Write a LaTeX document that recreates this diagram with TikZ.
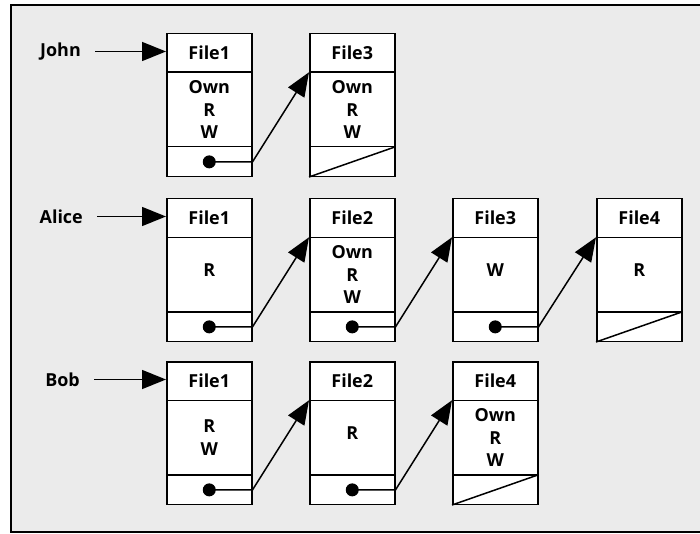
\documentclass[tikz,border=0pt]{standalone}
\usepackage{fontspec}
\setmainfont{Open Sans}
\usetikzlibrary{shapes.multipart,arrows.meta,calc}

\newcommand{\fhead}[1]{\parbox[c][37bp][c]{85bp}{\centering #1}}
\newcommand{\fbody}[1]{\parbox[c][73bp][c]{85bp}{\centering #1}}
\newcommand{\fbodyup}[1]{\parbox[c][73bp][c]{85bp}{\centering #1\par\vspace{8bp}}}
\newcommand{\ftail}{\parbox[c][28bp][c]{85bp}{\mbox{}}}

\tikzset{
  filebox/.style={rectangle split,rectangle split parts=3,draw=black,
    line width=1.5bp,fill=white,inner sep=0pt,anchor=north west},
  owner/.style={inner sep=0pt,anchor=east},
  link/.style={draw=black,line width=1.5bp,-{Triangle[length=24bp,width=19bp]}},
  ptr/.style={circle,fill=black,inner sep=0pt,minimum size=13bp},
  nil/.style={draw=black,line width=1.5bp},
}

\begin{document}
\begin{tikzpicture}[x=1bp,y=-1bp,font=\fontsize{18}{23}\selectfont\bfseries]
  \useasboundingbox (0,0) rectangle (700,534);
  \fill[gray!16] (11,5) rectangle (700,532);
  \draw[line width=1.5bp] (700,5) -- (11,5) -- (11,532) -- (700,532);

  % owners
  \begin{scope}[every node/.style={owner}]
    \node (john)  at (81,51.5)  {John};
    \node (alice) at (83,216.5) {Alice};
    \node (bob)   at (80,379.5) {Bob};
  \end{scope}

  % capability lists
  \begin{scope}[every node/.style={filebox}]
    \node (jf1) at (166,33) {\fhead{File1}\nodepart{two}\fbody{Own\\R\\W}\nodepart{three}\ftail};
    \node (jf3) at (309,33) {\fhead{File3}\nodepart{two}\fbody{Own\\R\\W}\nodepart{three}\ftail};
    \node (af1) at (166,198) {\fhead{File1}\nodepart{two}\fbodyup{R}\nodepart{three}\ftail};
    \node (af2) at (309,198) {\fhead{File2}\nodepart{two}\fbody{Own\\R\\W}\nodepart{three}\ftail};
    \node (af3) at (452,198) {\fhead{File3}\nodepart{two}\fbodyup{W}\nodepart{three}\ftail};
    \node (af4) at (596,198) {\fhead{File4}\nodepart{two}\fbodyup{R}\nodepart{three}\ftail};
    \node (bf1) at (166,361) {\fhead{File1}\nodepart{two}\fbody{R\\W}\nodepart{three}\ftail};
    \node (bf2) at (309,361) {\fhead{File2}\nodepart{two}\fbodyup{R}\nodepart{three}\ftail};
    \node (bf4) at (452,361) {\fhead{File4}\nodepart{two}\fbody{Own\\R\\W}\nodepart{three}\ftail};
  \end{scope}

  % pointers
  \begin{scope}[every node/.style={ptr}]
    \node (jp1) at ($(jf1.two split)!0.5!(jf1.south)$) {};
    \node (ap1) at ($(af1.two split)!0.5!(af1.south)$) {};
    \node (ap2) at ($(af2.two split)!0.5!(af2.south)$) {};
    \node (ap3) at ($(af3.two split)!0.5!(af3.south)$) {};
    \node (bp1) at ($(bf1.two split)!0.5!(bf1.south)$) {};
    \node (bp2) at ($(bf2.two split)!0.5!(bf2.south)$) {};
  \end{scope}

  % links
  \begin{scope}[every path/.style={link}]
    \path[shorten <=14bp] (john) -- (john -| jf1.west);
    \path[shorten <=14bp] (alice) -- (alice -| af1.west);
    \path[shorten <=14bp] (bob) -- (bob -| bf1.west);
    \path (jp1.center) -- (jp1 -| jf1.east) -- (jf3.one split west);
    \path (ap1.center) -- (ap1 -| af1.east) -- (af2.one split west);
    \path (ap2.center) -- (ap2 -| af2.east) -- (af3.one split west);
    \path (ap3.center) -- (ap3 -| af3.east) -- (af4.one split west);
    \path (bp1.center) -- (bp1 -| bf1.east) -- (bf2.one split west);
    \path (bp2.center) -- (bp2 -| bf2.east) -- (bf4.one split west);
  \end{scope}

  % empty ends
  \path[nil] (jf3.south west) -- (jf3.two split east);
  \path[nil] (af4.south west) -- (af4.two split east);
  \path[nil] (bf4.south west) -- (bf4.two split east);
\end{tikzpicture}
\end{document}
